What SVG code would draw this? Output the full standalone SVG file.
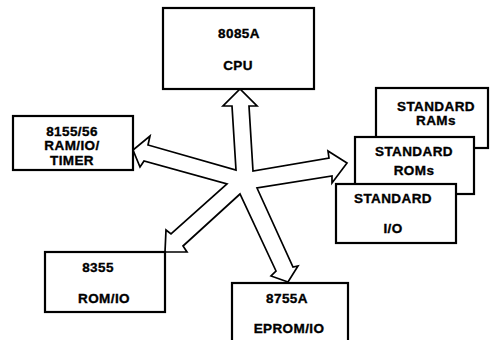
<svg xmlns="http://www.w3.org/2000/svg" width="495" height="340" viewBox="0 0 495 340">
<style>
.box{fill:#fff;stroke:#000;stroke-width:2.2}
.t{font-family:"Liberation Sans",Arial,sans-serif;font-weight:bold;font-size:13.5px;letter-spacing:0.4px;text-anchor:middle;fill:#000;stroke:#000;stroke-width:0.35}
.star{fill:#fff;stroke:#000;stroke-width:1.7;stroke-linejoin:miter}
</style>
<rect width="495" height="340" fill="#fff"/>
<g id="connectors">
<polygon class="star" points="236,170 232,106 223,106 240,89 257,106 249,106 253,171 329,158 328,151 347,163 332,183 332,176 257,188 293,267 298,266 288,282 271,276 276,271 240,194 183,246 187,252 165,252 166,230 171,234 227,184 144,161 140,167 133,150 150,136 148,145 236,170"/>
</g>
<g id="cpu">
<rect class="box" x="163" y="8" width="151" height="81"/>
<text class="t" x="239" y="38">8085A</text>
<text class="t" x="238" y="70">CPU</text>
</g>
<g id="n8155">
<rect class="box" x="13" y="116" width="120" height="54"/>
<text class="t" x="72" y="136">8155/56</text>
<text class="t" x="72" y="150">RAM/IO/</text>
<text class="t" x="72" y="165">TIMER</text>
</g>
<g id="rams">
<rect class="box" x="376" y="88" width="112" height="60"/>
<text class="t" x="436" y="111">STANDARD</text>
<text class="t" x="436" y="125">RAMs</text>
</g>
<g id="roms">
<rect class="box" x="355" y="137" width="119" height="57"/>
<text class="t" x="414" y="156">STANDARD</text>
<text class="t" x="414" y="175">ROMs</text>
</g>
<g id="io">
<rect class="box" x="336" y="184" width="120" height="59"/>
<text class="t" x="393" y="203">STANDARD</text>
<text class="t" x="393" y="233">I/O</text>
</g>
<g id="n8355">
<rect class="box" x="45" y="252" width="120" height="60"/>
<text class="t" x="98" y="272">8355</text>
<text class="t" x="104" y="303">ROM/IO</text>
</g>
<g id="n8755">
<rect class="box" x="232" y="283" width="116" height="70"/>
<text class="t" x="287" y="303">8755A</text>
<text class="t" x="289" y="333">EPROM/IO</text>
</g>
</svg>
